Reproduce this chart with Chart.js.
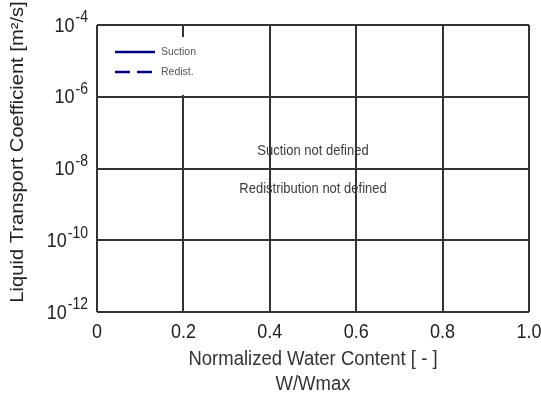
<!DOCTYPE html>
<html>
<head>
<meta charset="utf-8">
<script src="https://cdn.jsdelivr.net/npm/chart.js@4.4.1/dist/chart.umd.min.js"></script>
<style>
  body { margin: 0; background: #fff; }
  #wrap { width: 541px; height: 398px; }
</style>
</head>
<body>
<div id="wrap"><canvas id="chart" width="541" height="398"></canvas></div>
<script>
// series (no data defined for this material)
const seriesNames = ["Suction", "Redist."];
const suctionData = [];
const redistData = [];

// axis ticks
const xTicks = [0, 0.2, 0.4, 0.6, 0.8, 1.0];
const xTickLabels = ["0", "0.2", "0.4", "0.6", "0.8", "1.0"];
const yExponents = [-12, -10, -8, -6, -4];

const notes = ["Suction not defined", "Redistribution not defined"];

const FONT = "'Liberation Sans', Arial, sans-serif";
const lineColor = "#000080";
const STRETCH = 1.12;

// text a bit taller than wide, like the original
function tallText(ctx, txt, x, y, align) {
    ctx.save();
    ctx.translate(x, y);
    ctx.scale(1, STRETCH);
    ctx.textAlign = align || "center";
    ctx.textBaseline = "middle";
    ctx.fillText(txt, 0, 0);
    ctx.restore();
}

const overlay = {
    id: "overlay",
    afterDatasetsDraw(chart) {
        const ctx = chart.ctx;
        const xs = chart.scales.x;
        const ys = chart.scales.y;
        const area = chart.chartArea;
        ctx.save();

        // legend box (hides grid behind it)
        ctx.fillStyle = "#fff";
        ctx.fillRect(area.left + 2, area.top + 12, 108, 58);
        chart.data.datasets.forEach((ds, i) => {
            const y = area.top + 27 + i * 20;
            ctx.strokeStyle = ds.borderColor;
            ctx.lineWidth = 2.5;
            ctx.setLineDash(ds.borderDash || []);
            ctx.beginPath();
            ctx.moveTo(area.left + 18, y);
            ctx.lineTo(area.left + 58, y);
            ctx.stroke();
            ctx.setLineDash([]);
            ctx.fillStyle = "#555";
            ctx.font = "10.5px " + FONT;
            tallText(ctx, ds.label, area.left + 64, y, "left");
        });

        // notes in the middle
        const cx = xs.getPixelForValue(0.5);
        ctx.fillStyle = "#3c3c3c";
        ctx.font = "13px " + FONT;
        tallText(ctx, notes[0], cx, 151);
        tallText(ctx, notes[1], cx, 189);

        // x tick labels
        ctx.fillStyle = "#222";
        ctx.font = "18px " + FONT;
        xTicks.forEach((v, i) => {
            tallText(ctx, xTickLabels[i], xs.getPixelForValue(v), area.bottom + 20);
        });

        // x title
        ctx.fillStyle = "#333";
        ctx.font = "18.5px " + FONT;
        tallText(ctx, "Normalized Water Content [ - ]", cx, 359);
        tallText(ctx, "W/Wmax", cx, 384);

        // y tick labels with superscript exponent
        ctx.fillStyle = "#222";
        yExponents.forEach(e => {
            const py = ys.getPixelForValue(Math.pow(10, e));
            const exp = "-" + Math.abs(e);
            ctx.font = "14px " + FONT;
            const ew = ctx.measureText(exp).width;
            tallText(ctx, exp, 88, py - 7, "right");
            ctx.font = "18px " + FONT;
            tallText(ctx, "10", 88 - ew - 1, py + 1, "right");
        });

        // y title
        ctx.translate(18, 152);
        ctx.rotate(-Math.PI / 2);
        ctx.scale(STRETCH, 1);
        ctx.font = "18px " + FONT;
        ctx.fillStyle = "#222";
        ctx.textAlign = "center";
        ctx.textBaseline = "middle";
        ctx.fillText("Liquid Transport Coefficient [m\u00b2/s]", 0, 0);
        ctx.restore();
    }
};

new Chart(document.getElementById("chart"), {
    type: "scatter",
    data: {
        datasets: [
            { label: seriesNames[0], data: suctionData, borderColor: lineColor, showLine: true, pointRadius: 0, borderWidth: 2 },
            { label: seriesNames[1], data: redistData, borderColor: lineColor, borderDash: [15, 7], showLine: true, pointRadius: 0, borderWidth: 2 }
        ]
    },
    options: {
        responsive: false,
        animation: false,
        layout: { padding: { left: 97, right: 12, top: 25, bottom: 86 } },
        plugins: { legend: { display: false }, tooltip: { enabled: false } },
        scales: {
            x: {
                type: "linear",
                min: 0, max: 1,
                ticks: { display: false, stepSize: 0.2 },
                grid: { color: "#333", lineWidth: 2, drawTicks: false },
                border: { display: false }
            },
            y: {
                type: "logarithmic",
                min: 1e-12, max: 1e-4,
                afterBuildTicks: axis => {
                    axis.ticks = yExponents.map(e => ({ value: Math.pow(10, e) }));
                },
                ticks: { display: false },
                grid: { color: "#333", lineWidth: 2, drawTicks: false },
                border: { display: false }
            }
        }
    },
    plugins: [overlay]
});
</script>
</body>
</html>
